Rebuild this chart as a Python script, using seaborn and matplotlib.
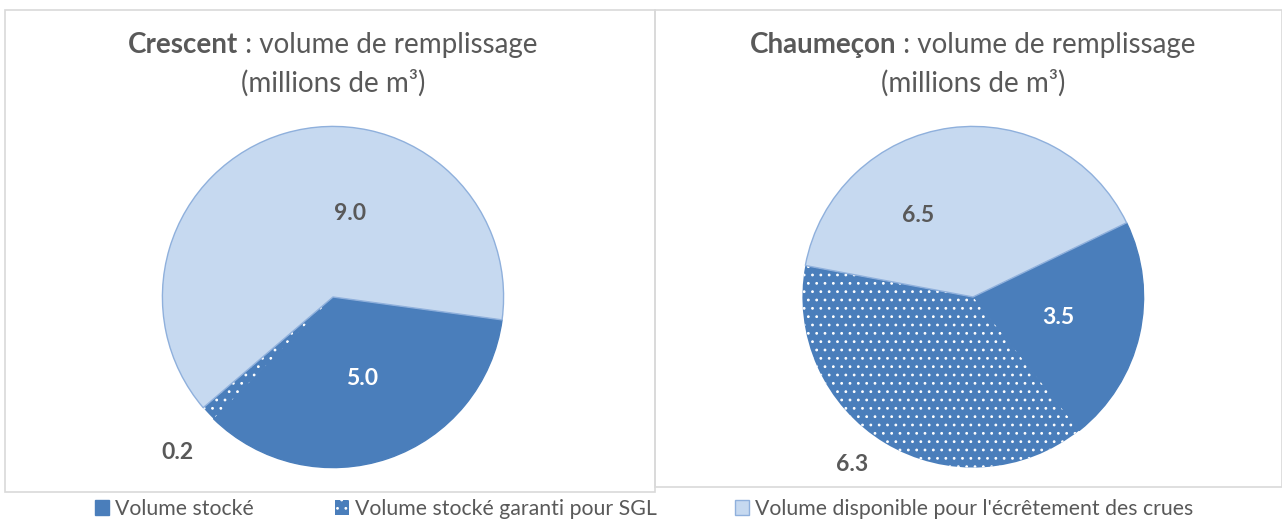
import matplotlib
matplotlib.use("Agg")
import matplotlib.pyplot as plt
from matplotlib.patches import Patch, Rectangle
import seaborn as sns

sns.set_style("white")
plt.rcParams["font.family"] = ["Lato", "DejaVu Sans"]
plt.rcParams["hatch.color"] = "white"
plt.rcParams["hatch.linewidth"] = 0.8

# données
categories = ["Volume stocké", "Volume stocké garanti pour SGL", "Volume disponible pour l'écrêtement des crues"]
crescent = [5.0, 0.2, 9.0]
chaumecon = [3.5, 6.3, 6.5]
crescent_labels = ["5.0", "0.2", "9.0"]
chaumecon_labels = ["3.5", "6.3", "6.5"]

dark, light = sns.color_palette(["#4a7ebb", "#c6d9f0"])
edge = "#8fb0dc"
grey = "#595959"

W, H = 1282, 524
fig = plt.figure(figsize=(W / 100, H / 100), dpi=100)

# cadres
fig.patches.append(Rectangle((5 / W, 1 - 492 / H), 650 / W, 482 / H, transform=fig.transFigure,
                             fill=False, edgecolor="#d9d9d9", lw=1.2))
fig.patches.append(Rectangle((655 / W, 1 - 487 / H), 627 / W, 477 / H, transform=fig.transFigure,
                             fill=False, edgecolor="#d9d9d9", lw=1.2))


def pie(cx, cy, r, values, labels, start, label_pos, label_colors, name):
    ax = fig.add_axes([(cx - r) / W, 1 - (cy + r) / H, 2 * r / W, 2 * r / H])
    wedges, _ = ax.pie(values, colors=[dark, dark, light], startangle=start, counterclock=False,
                       wedgeprops=dict(linewidth=1))
    wedges[0].set_edgecolor(dark)
    wedges[1].set_hatch("..")
    wedges[1].set_edgecolor("white")
    wedges[1].set_linewidth(0)
    wedges[2].set_edgecolor(edge)
    wedges[2].set_zorder(5)
    ax.set_xlim(-1.02, 1.02)
    ax.set_ylim(-1.02, 1.02)
    for lab, (x, y), c in zip(labels, label_pos, label_colors):
        ax.text(x, y, lab, ha="center", va="center", fontsize=16.5, fontweight="bold", color=c, zorder=6)
    # titre
    fig.canvas.draw()
    rend = fig.canvas.get_renderer()
    t1 = fig.text(0, 1 - 45 / H, name, fontsize=20, fontweight="bold", color=grey, va="center")
    t2 = fig.text(0, 1 - 45 / H, " : volume de remplissage", fontsize=20, color=grey, va="center")
    w1 = t1.get_window_extent(rend).width
    w2 = t2.get_window_extent(rend).width
    x0 = cx - (w1 + w2) / 2
    t1.set_x(x0 / W)
    t2.set_x((x0 + w1) / W)
    fig.text(cx / W, 1 - 83 / H, "(millions de m³)", fontsize=20, color=grey, ha="center", va="center")
    return wedges


pie(333, 297, 174, crescent, crescent_labels, -7.7,
    [(0.17, -0.48), (-0.91, -0.91), (0.10, 0.49)], ["white", grey, grey], "Crescent")
pie(973, 297, 174, chaumecon, chaumecon_labels, 25.8,
    [(0.50, -0.12), (-0.71, -0.98), (-0.32, 0.48)], ["white", grey, grey], "Chaumeçon")

handles = [Patch(facecolor=dark, edgecolor=dark),
           Patch(facecolor=dark, edgecolor="white", hatch="..", linewidth=0),
           Patch(facecolor=light, edgecolor=edge)]
for h, lab, x in zip(handles, categories, [95, 335, 735]):
    fig.legend([h], [lab], loc="center left", bbox_to_anchor=(x / W, 1 - 509 / H),
               frameon=False, fontsize=15.3, labelcolor=grey, handlelength=0.65, handleheight=0.65,
               handletextpad=0.3, borderpad=0, borderaxespad=0)

fig.savefig("out.png", dpi=100)
